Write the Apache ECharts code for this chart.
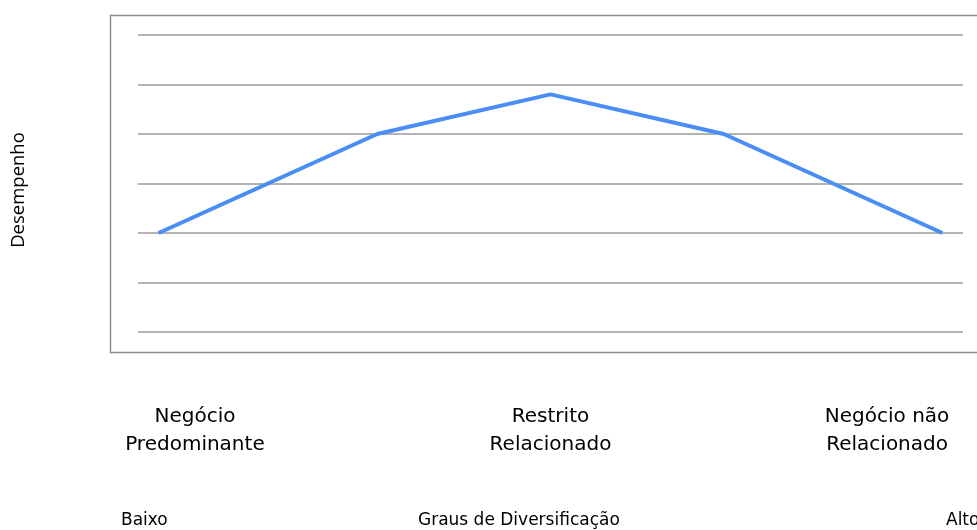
<!DOCTYPE html>
<html>
<head>
<meta charset="utf-8">
<script src="https://cdn.jsdelivr.net/npm/echarts@6/dist/echarts.min.js"></script>
<style>
  html, body { margin: 0; padding: 0; background: #fff; }
  #main { width: 977px; height: 530px; }
</style>
</head>
<body>
<div id="main"></div>
<script>
// grau de diversificacao (0 = baixo, 10 = alto) x desempenho
var diversification = [0.25, 2.9, 5.0, 7.1, 9.75];
var performance = [2, 4, 4.8, 4, 2];

// rotulos das estrategias, no eixo x
var strategyNames = ['Negócio\nPredominante', 'Restrito\nRelacionado', 'Negócio não\nRelacionado'];
var strategyAt = [0.69, 5.0, 9.08];

var yName = 'Desempenho';
var xName = 'Graus de Diversificação';
var lowLabel = 'Baixo';
var highLabel = 'Alto';

var chart = echarts.init(document.getElementById('main'), null, { renderer: 'canvas' });

var points = [];
for (var i = 0; i < diversification.length; i++) {
  points.push([diversification[i], performance[i]]);
}

var labelFamily = '"DejaVu Sans", "Liberation Sans", sans-serif';
var bottomFont = '17px ' + labelFamily;

function strategyLabel(v) {
  for (var k = 0; k < strategyAt.length; k++) {
    if (Math.abs(strategyAt[k] - v) < 1e-6) return strategyNames[k];
  }
  return '';
}

var option = {
  animation: false,
  backgroundColor: '#fff',
  grid: {
    left: 138,
    right: 14,
    top: 35,
    bottom: 198
  },
  xAxis: {
    type: 'value',
    min: 0,
    max: 10,
    axisLine: { show: false },
    axisTick: { show: false },
    splitLine: { show: false },
    axisLabel: {
      show: true,
      customValues: strategyAt,
      showMinLabel: true,
      showMaxLabel: true,
      margin: 71,
      lineHeight: 28,
      fontFamily: labelFamily,
      fontSize: 20,
      color: '#000',
      formatter: function (v) {
        return strategyLabel(v);
      }
    }
  },
  yAxis: {
    type: 'value',
    min: 0,
    max: 6,
    interval: 1,
    axisLine: { show: false },
    axisTick: { show: false },
    axisLabel: { show: false },
    splitLine: {
      show: true,
      lineStyle: { color: '#9a9a9a', width: 1.5 }
    }
  },
  graphic: [
    {
      type: 'rect',
      left: 108,
      top: 13,
      shape: { width: 900, height: 337 },
      style: { fill: null, stroke: '#8e8e8e', lineWidth: 1.5 },
      z: -1
    },
    {
      type: 'text',
      x: 18.5,
      y: 190,
      rotation: Math.PI / 2,
      style: {
        text: yName,
        font: '18.5px "Open Sans", sans-serif',
        fill: '#000',
        align: 'center',
        verticalAlign: 'middle'
      }
    },
    {
      type: 'text',
      left: 121,
      top: 512,
      style: { text: lowLabel, font: bottomFont, fill: '#000' }
    },
    {
      type: 'text',
      left: 418,
      top: 512,
      style: { text: xName, font: bottomFont, fill: '#000' }
    },
    {
      type: 'text',
      left: 946,
      top: 512,
      style: { text: highLabel, font: bottomFont, fill: '#000' }
    }
  ],
  series: [{
    name: yName,
    type: 'line',
    data: points,
    smooth: false,
    showSymbol: false,
    symbol: 'none',
    lineStyle: { color: '#4a8df5', width: 4 },
    itemStyle: { color: '#4a8df5' }
  }]
};

chart.setOption(option);
</script>
</body>
</html>
